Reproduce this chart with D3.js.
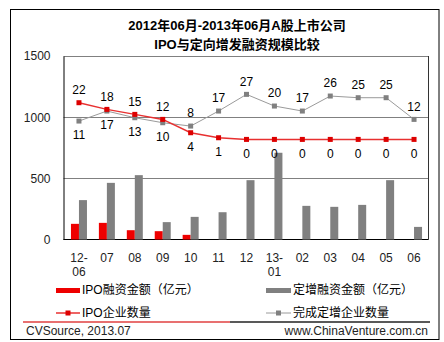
<!DOCTYPE html>
<html>
<head>
<meta charset="utf-8">
<script src="https://cdn.jsdelivr.net/npm/d3@7/dist/d3.min.js"></script>
<style>
  html, body { margin: 0; padding: 0; background: #fff; }
  svg { display: block; }
  text { font-family: "Liberation Sans", Arial, "Noto Sans CJK SC", sans-serif; }
</style>
</head>
<body>
<svg id="chart" width="444" height="342"></svg>
<script>
// Monthly categories, June 2012 to June 2013
const months = ["12-06", "07", "08", "09", "10", "11", "12", "13-01", "02", "03", "04", "05", "06"];
// Financing amounts (亿元)
const ipoAmount = [128, 136, 76, 68, 38, 0, 0, 0, 0, 0, 0, 0, 0];
const placementAmount = [322, 463, 526, 142, 185, 223, 485, 709, 275, 267, 283, 485, 103];
// Number of companies
const ipoCount = [22, 18, 15, 12, 4, 1, 0, 0, 0, 0, 0, 0, 0];
const placementCount = [11, 17, 13, 10, 8, 17, 27, 20, 17, 26, 25, 25, 12];
// Left axis ticks
const yTicks = [0, 500, 1000, 1500];

const titleLines = ["2012年06月-2013年06月A股上市公司", "IPO与定向增发融资规模比较"];
const legendLabels = ["IPO融资金额（亿元）", "定增融资金额（亿元）", "IPO企业数量", "完成定增企业数量"];
const sourceText = "CVSource, 2013.07";
const siteText = "www.ChinaVenture.com.cn";

const RED = "#ee0000";
const GRAY = "#808080";
const LINE_GRAY = "#9a9a9a";

const svg = d3.select("#chart");
const plot = { left: 63.5, right: 428.5, top: 56, bottom: 239.5 };

// Outer frame
svg.append("rect")
  .attr("x", 10.5).attr("y", 9.5)
  .attr("width", 428.5).attr("height", 330)
  .attr("fill", "#fff").attr("stroke", "#000").attr("stroke-width", 1);

// Title
svg.append("g").selectAll("text").data(titleLines).join("text")
  .attr("x", 237).attr("y", (d, i) => 25 + i * 19)
  .attr("dy", "0.35em")
  .attr("text-anchor", "middle")
  .attr("font-size", 13).attr("font-weight", "bold").attr("fill", "#000")
  .text(d => d);

// Scales
const x = d3.scaleBand().domain(months).range([65, 428]).paddingInner(0).paddingOuter(0);
const yAmount = d3.scaleLinear().domain([0, 1500]).range([plot.bottom, plot.top]);
const yCount = d3.scaleLinear().domain([-60, 50]).range([plot.bottom, plot.top]);
const cx = m => x(m) + x.bandwidth() / 2;

// Gridlines
svg.append("g").selectAll("line").data(yTicks.filter(t => t > 0)).join("line")
  .attr("x1", plot.left).attr("x2", plot.right)
  .attr("y1", d => Math.round(yAmount(d)) + 0.5).attr("y2", d => Math.round(yAmount(d)) + 0.5)
  .attr("stroke", GRAY).attr("stroke-width", 1);

// Right border of the plot area
svg.append("line")
  .attr("x1", plot.right).attr("x2", plot.right)
  .attr("y1", plot.top).attr("y2", plot.bottom)
  .attr("stroke", "#333").attr("stroke-width", 1);

// Left axis
const yAxis = d3.axisLeft(yAmount).tickValues(yTicks).tickFormat(d3.format("d"))
  .tickSize(0).tickPadding(13);
const gy = svg.append("g").attr("transform", `translate(${plot.left},0)`).call(yAxis);
gy.select(".domain").attr("stroke", "#000");
gy.selectAll("text").attr("font-size", 12).attr("fill", "#222")
  .attr("font-family", "Liberation Sans, Arial, sans-serif");

// Bottom axis with two-line labels
const xAxis = d3.axisBottom(x).tickSize(0).tickFormat("");
const gx = svg.append("g").attr("transform", `translate(0,${plot.bottom})`).call(xAxis);
gx.select(".domain").attr("stroke", "#000").attr("d", `M${plot.left},0H${plot.right}`);
const xl = svg.append("g").selectAll("text").data(months).join("text")
  .attr("x", d => cx(d))
  .attr("text-anchor", "middle")
  .attr("font-size", 12).attr("fill", "#222");
xl.each(function (d) {
  const parts = d.includes("-") ? [d.split("-")[0] + "-", d.split("-")[1]] : [d];
  d3.select(this).selectAll("tspan").data(parts).join("tspan")
    .attr("x", cx(d))
    .attr("y", (p, i) => 258 + i * 14)
    .attr("dy", "0.35em")
    .text(p => p);
});

// Bars
svg.append("g").selectAll("rect").data(months).join("rect")
  .attr("x", d => cx(d) - 8).attr("width", 8)
  .attr("y", (d, i) => yAmount(ipoAmount[i]))
  .attr("height", (d, i) => yAmount(0) - yAmount(ipoAmount[i]))
  .attr("fill", RED);
svg.append("g").selectAll("rect").data(months).join("rect")
  .attr("x", d => cx(d)).attr("width", 8)
  .attr("y", (d, i) => yAmount(placementAmount[i]))
  .attr("height", (d, i) => yAmount(0) - yAmount(placementAmount[i]))
  .attr("fill", GRAY);

// Count lines
function drawSeries(values, lineColor, markerColor, width) {
  const line = d3.line().x((d, i) => cx(months[i])).y(d => yCount(d));
  svg.append("path").datum(values)
    .attr("d", line).attr("fill", "none")
    .attr("stroke", lineColor).attr("stroke-width", width);
  svg.append("g").selectAll("rect").data(values).join("rect")
    .attr("x", (d, i) => cx(months[i]) - 2.5)
    .attr("y", d => yCount(d) - 2.5)
    .attr("width", 5).attr("height", 5)
    .attr("fill", markerColor);
}
drawSeries(placementCount, LINE_GRAY, GRAY, 1);
drawSeries(ipoCount, "#e83030", "#dd0000", 1.5);

// Count labels: the higher series labelled above, the lower below
function drawLabels(values, other) {
  svg.append("g").selectAll("text").data(values).join("text")
    .attr("x", (d, i) => cx(months[i]))
    .attr("y", (d, i) => yCount(d) + (d >= other[i] ? -13 : 14))
    .attr("dy", "0.35em")
    .attr("text-anchor", "middle")
    .attr("font-size", 12).attr("fill", "#000")
    .text(d => d);
}
drawLabels(ipoCount, placementCount);
drawLabels(placementCount, ipoCount);

// Legend
const lg = svg.append("g");
lg.append("rect").attr("x", 56).attr("y", 288).attr("width", 24).attr("height", 5).attr("fill", RED);
lg.append("rect").attr("x", 266).attr("y", 288).attr("width", 25).attr("height", 5).attr("fill", GRAY);
lg.append("line").attr("x1", 56).attr("x2", 80).attr("y1", 313).attr("y2", 313)
  .attr("stroke", "#e83030").attr("stroke-width", 1.5);
lg.append("rect").attr("x", 65.5).attr("y", 310.5).attr("width", 5).attr("height", 5).attr("fill", "#dd0000");
lg.append("line").attr("x1", 266).attr("x2", 291).attr("y1", 313).attr("y2", 313)
  .attr("stroke", LINE_GRAY).attr("stroke-width", 1);
lg.append("rect").attr("x", 276).attr("y", 310.5).attr("width", 5).attr("height", 5).attr("fill", GRAY);
const legendPos = [[82, 290], [293, 290], [82, 313], [293, 313]];
lg.selectAll("text").data(legendLabels).join("text")
  .attr("x", (d, i) => legendPos[i][0]).attr("y", (d, i) => legendPos[i][1])
  .attr("dy", "0.35em")
  .attr("font-size", 12).attr("fill", "#000")
  .text(d => d);

// Footer divider and source line
svg.append("line").attr("x1", 23).attr("x2", 230).attr("y1", 322).attr("y2", 322)
  .attr("stroke", "#e04040").attr("stroke-width", 1.5);
svg.append("line").attr("x1", 230).attr("x2", 430).attr("y1", 322).attr("y2", 322)
  .attr("stroke", "#222").attr("stroke-width", 1.5);
svg.append("text").attr("x", 26).attr("y", 331).attr("dy", "0.35em")
  .attr("font-size", 12).attr("fill", "#222").text(sourceText);
svg.append("text").attr("x", 428).attr("y", 331).attr("dy", "0.35em")
  .attr("text-anchor", "end")
  .attr("font-size", 12).attr("fill", "#222").text(siteText);
</script>
</body>
</html>
